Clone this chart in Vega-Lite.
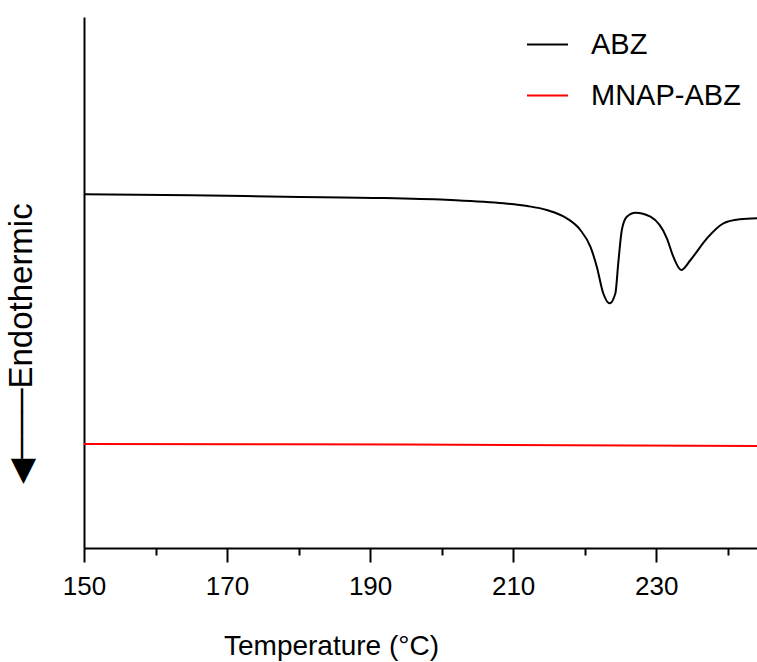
{
  "$schema": "https://vega.github.io/schema/vega-lite/v6.json",
  "width": 673,
  "height": 531,
  "autosize": "none",
  "padding": {"left": 84, "top": 17, "right": 0, "bottom": 114},
  "background": "white",
  "config": {"view": {"stroke": null}},
  "data": {"values": [
    {"T": 150, "v": 6.66, "s": "ABZ"},
    {"T": 165, "v": 6.645, "s": "ABZ"},
    {"T": 178, "v": 6.616, "s": "ABZ"},
    {"T": 192, "v": 6.591, "s": "ABZ"},
    {"T": 201.3, "v": 6.554, "s": "ABZ"},
    {"T": 208.7, "v": 6.491, "s": "ABZ"},
    {"T": 212, "v": 6.44, "s": "ABZ"},
    {"T": 214.7, "v": 6.365, "s": "ABZ"},
    {"T": 217.5, "v": 6.209, "s": "ABZ"},
    {"T": 219.4, "v": 5.989, "s": "ABZ"},
    {"T": 220.8, "v": 5.674, "s": "ABZ"},
    {"T": 221.7, "v": 5.298, "s": "ABZ"},
    {"T": 222.6, "v": 4.797, "s": "ABZ"},
    {"T": 223.5, "v": 4.608, "s": "ABZ"},
    {"T": 224.3, "v": 4.797, "s": "ABZ"},
    {"T": 224.7, "v": 5.362, "s": "ABZ"},
    {"T": 225.2, "v": 5.989, "s": "ABZ"},
    {"T": 225.9, "v": 6.239, "s": "ABZ"},
    {"T": 227.1, "v": 6.315, "s": "ABZ"},
    {"T": 229.2, "v": 6.239, "s": "ABZ"},
    {"T": 231.5, "v": 5.832, "s": "ABZ"},
    {"T": 232.4, "v": 5.486, "s": "ABZ"},
    {"T": 233.5, "v": 5.235, "s": "ABZ"},
    {"T": 234.8, "v": 5.424, "s": "ABZ"},
    {"T": 237.1, "v": 5.832, "s": "ABZ"},
    {"T": 239.4, "v": 6.115, "s": "ABZ"},
    {"T": 241.7, "v": 6.19, "s": "ABZ"},
    {"T": 244.1, "v": 6.209, "s": "ABZ"},
    {"T": 150, "v": 1.959, "s": "MNAP-ABZ"},
    {"T": 195, "v": 1.949, "s": "MNAP-ABZ"},
    {"T": 244.1, "v": 1.921, "s": "MNAP-ABZ"}
  ]},
  "mark": {"type": "line", "strokeWidth": 2, "interpolate": "monotone"},
  "encoding": {
    "x": {
      "field": "T", "type": "quantitative",
      "scale": {"domain": [150, 244.1], "nice": false, "zero": false},
      "axis": {
        "values": [150, 160, 170, 180, 190, 200, 210, 220, 230, 240],
        "labelExpr": "datum.value % 20 == 0 ? '' : datum.label",
        "tickSize": {"condition": {"test": "datum.value % 20 == 0", "value": 7}, "value": 14},
        "tickWidth": 2, "tickColor": "black",
        "domainWidth": 2, "domainColor": "black",
        "grid": false,
        "labelFont": "Liberation Sans, Arial",
        "labelFontSize": 26, "labelColor": "black", "labelPadding": 11,
        "labelFlush": false,
        "title": "Temperature (°C)",
        "titleFont": "Liberation Sans, Arial",
        "titleFontSize": 28, "titleFontWeight": "normal", "titleColor": "black",
        "titleX": 247, "titleY": 106, "titleBaseline": "alphabetic", "titleAnchor": "middle", "titleAlign": "center"
      }
    },
    "y": {
      "field": "v", "type": "quantitative",
      "scale": {"domain": [0, 10], "nice": false},
      "axis": {
        "ticks": false, "labels": false, "grid": false,
        "domainWidth": 2, "domainColor": "black",
        "title": "◀───Endothermic",
        "titleFont": "Liberation Sans, Arial",
        "titleFontSize": 33, "titleFontWeight": "normal", "titleColor": "black",
        "titleAngle": -90, "titleX": -53, "titleY": 326, "titleBaseline": "alphabetic", "titleAlign": "center"
      }
    },
    "color": {
      "field": "s", "type": "nominal",
      "scale": {"domain": ["ABZ", "MNAP-ABZ"], "range": ["#000000", "#ff0000"]},
      "legend": {
        "title": null, "orient": "none", "legendX": 442, "legendY": 6,
        "symbolType": "stroke", "symbolSize": 1681, "symbolStrokeWidth": 2,
        "labelFont": "Liberation Sans, Arial", "labelFontSize": 29, "labelColor": "black",
        "labelOffset": 22, "rowPadding": 14, "padding": 0
      }
    }
  }
}
